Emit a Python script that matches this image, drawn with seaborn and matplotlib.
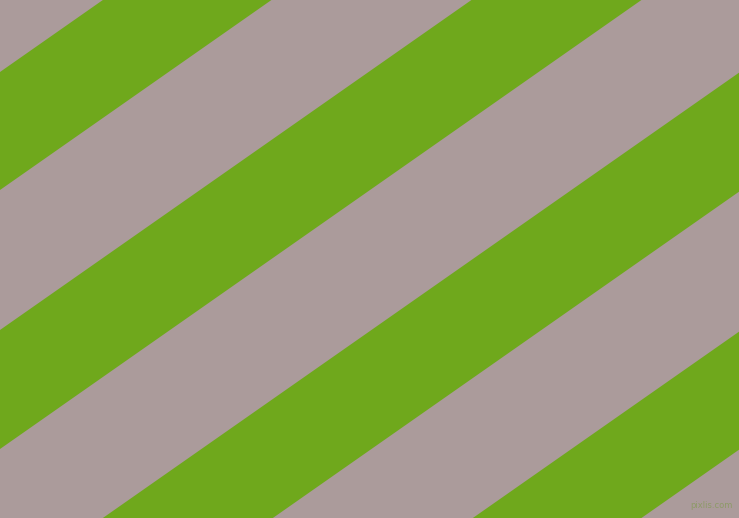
import numpy as np
import seaborn as sns
import matplotlib.pyplot as plt

# stripe edges: where each edge meets the left border (pixels from top)
green_top = [72, 330, 590, 849]
green_bottom = [190, 449, 709, 967]
slope = 0.70  # rise per pixel, edges go up to the right

gray = "#ab9b9b"
green = "#6fa81c"
width, height = 739, 518

sns.set_theme(style="white")
fig = plt.figure(figsize=(7.39, 5.18), dpi=100)
ax = fig.add_axes([0, 0, 1, 1])
ax.set_facecolor(gray)

x = np.array([0, width])
for top, bottom in zip(green_top, green_bottom):
    ax.fill_between(x, top - slope * x, bottom - slope * x,
                    color=green, linewidth=0)

ax.set_xlim(0, width)
ax.set_ylim(height, 0)
ax.axis("off")
fig.patch.set_facecolor(gray)

fig.text(0.992, 0.016, "pixlis.com", ha="right", va="bottom",
         fontsize=6, color="#8a9a62", alpha=0.9)

fig.savefig("out.png", dpi=100, facecolor=gray)
